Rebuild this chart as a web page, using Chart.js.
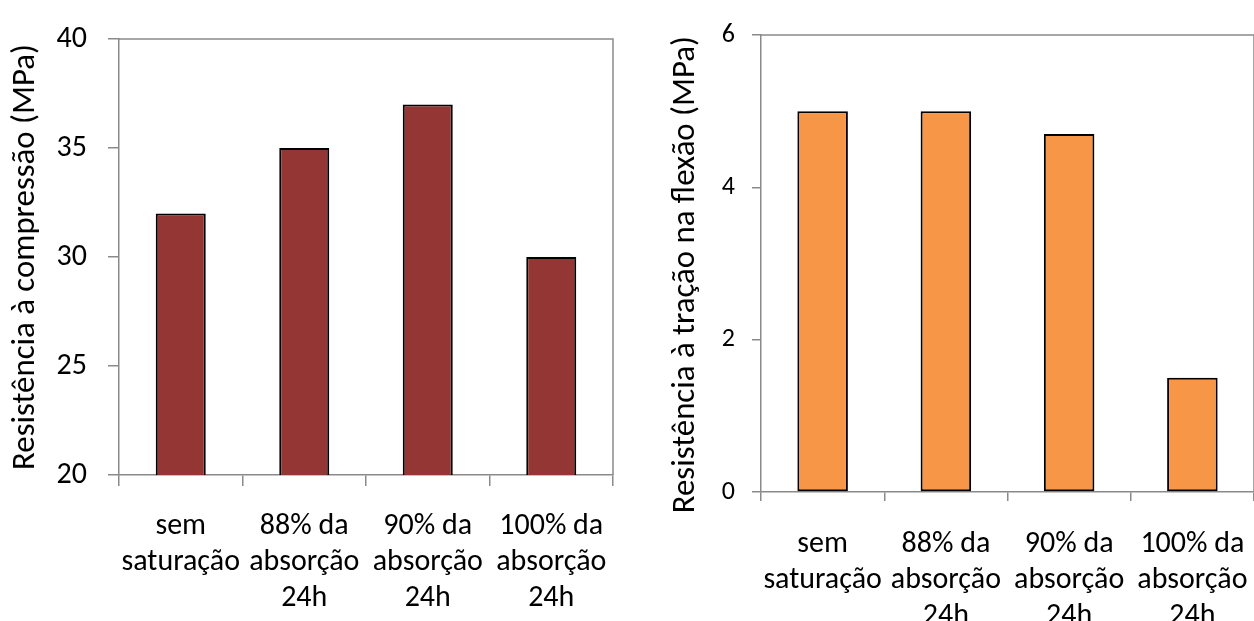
<!DOCTYPE html>
<html>
<head>
<meta charset="utf-8">
<script src="https://cdn.jsdelivr.net/npm/chart.js@4/dist/chart.umd.min.js"></script>
<style>
  html, body { margin: 0; padding: 0; background: #fff; }
  #wrap { position: relative; width: 1254px; height: 621px; overflow: hidden; }
  canvas { position: absolute; top: 0; }
  #cLeft { left: 0; }
  #cRight { left: 627px; }
</style>
</head>
<body>
<div id="wrap">
  <canvas id="cLeft" width="627" height="621"></canvas>
  <canvas id="cRight" width="627" height="621"></canvas>
</div>
<script>
// Categories shared by both panels (multi-line labels)
const categories = [
  ['sem', 'saturação'],
  ['88% da', 'absorção', '24h'],
  ['90% da', 'absorção', '24h'],
  ['100% da', 'absorção', '24h']
];
// Compressive strength (MPa)
const compressao = [32, 35, 37, 30];
// Flexural tensile strength (MPa)
const flexao = [5, 5, 4.7, 1.5];
// Axis ranges
const compressaoTicks = { min: 20, max: 40, step: 5 };
const flexaoTicks = { min: 0, max: 6, step: 2 };

const FONT = 'Carlito, Calibri, Lato, sans-serif';
const AXIS = '#8a8a8a';

// Draws the plot-area frame (top and right edges, like the axes)
const frame = {
  id: 'frame',
  afterDraw(chart) {
    const a = chart.chartArea, ctx = chart.ctx;
    ctx.save();
    ctx.strokeStyle = AXIS;
    ctx.lineWidth = 1.5;
    ctx.beginPath();
    ctx.moveTo(a.left, a.top);
    ctx.lineTo(a.right, a.top);
    ctx.lineTo(a.right, a.bottom);
    ctx.stroke();
    ctx.restore();
  }
};

function makeChart(id, values, color, title, rng, geo) {
  return new Chart(document.getElementById(id), {
    type: 'bar',
    data: {
      labels: categories,
      datasets: [{
        data: values,
        backgroundColor: color,
        borderColor: '#000',
        borderWidth: 2,
        borderSkipped: false,
        categoryPercentage: 1,
        barPercentage: geo.bar
      }]
    },
    plugins: [frame],
    options: {
      responsive: false,
      devicePixelRatio: 1,
      animation: false,
      layout: { padding: { top: geo.top, right: geo.right, left: 0, bottom: 0 } },
      plugins: { legend: { display: false }, tooltip: { enabled: false } },
      scales: {
        x: {
          offset: true,
          grid: { offset: true, drawOnChartArea: false, color: AXIS, lineWidth: 1.5, tickLength: geo.xTick },
          border: { color: AXIS, width: 1.5 },
          ticks: {
            color: '#000', maxRotation: 0, autoSkip: false, padding: geo.xPad,
            font: { family: FONT, size: 30, lineHeight: 1.2 }
          },
          // fixed axis band; labels sit inside their categories, so no side padding
          afterFit(s) { s.height = geo.xH; s.paddingLeft = 0; s.paddingRight = 0; }
        },
        y: {
          min: rng.min, max: rng.max,
          grid: { drawOnChartArea: false, color: AXIS, lineWidth: 1.5, tickLength: geo.yTick },
          border: { color: AXIS, width: 1.5 },
          ticks: {
            stepSize: rng.step, color: '#000', padding: geo.yPad,
            font: { family: FONT, size: geo.yFont }
          },
          title: {
            display: true, text: title, color: '#000',
            font: { family: FONT, size: 32.8, lineHeight: 1.2 },
            padding: { top: geo.titlePad, bottom: 0 }
          },
          afterFit(s) { s.width = geo.yW; }
        }
      }
    }
  });
}

makeChart('cLeft', compressao, '#943634', 'Resistência à compressão (MPa)', compressaoTicks,
  { bar: 0.405, top: 27, right: 14, xH: 146, yW: 119, xTick: 11, yTick: 11, xPad: 22, yPad: 21, yFont: 30, titlePad: 6 });

makeChart('cRight', flexao, '#F79646', 'Resistência à tração na flexão (MPa)   ', flexaoTicks,
  { bar: 0.41, top: 35, right: 0, xH: 129, yW: 134, xTick: 9, yTick: 9, xPad: 25, yPad: 17, yFont: 26, titlePad: 39 });
</script>
</body>
</html>
